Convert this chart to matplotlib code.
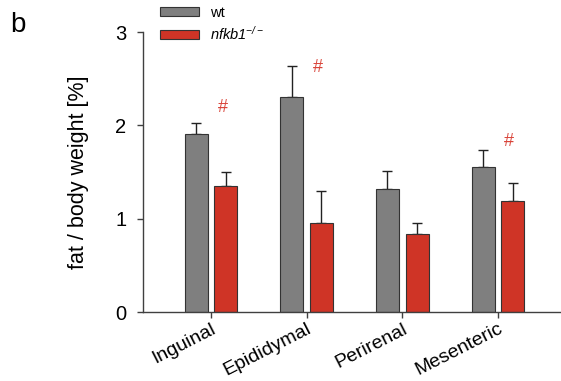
import matplotlib
matplotlib.use("Agg")
import matplotlib.pyplot as plt
import numpy as np

plt.rcParams['font.family'] = ['Liberation Sans', 'DejaVu Sans']
plt.rcParams['mathtext.fontset'] = 'custom'
plt.rcParams['mathtext.it'] = 'Liberation Sans:italic'
plt.rcParams['mathtext.rm'] = 'Liberation Sans:italic'

categories = ["Inguinal", "Epididymal", "Perirenal", "Mesenteric"]
wt_mean = [1.91, 2.30, 1.32, 1.55]
wt_err = [0.11, 0.34, 0.19, 0.19]
ko_mean = [1.35, 0.95, 0.84, 1.19]
ko_err = [0.15, 0.35, 0.11, 0.19]
sig = ["#", "#", "", "#"]
sig_y = [2.19, 2.62, 0, 1.83]

fig = plt.figure(figsize=(5.61, 3.81), dpi=100)
ax = fig.add_axes([143/561, 1-312/381, 417/561, 280/381])

x = np.arange(len(categories))
w = 0.24
off = 0.155
gray = '#7f7f7f'
red = '#cf3426'
ax.bar(x - off, wt_mean, w, color=gray, edgecolor='#333333', linewidth=0.8, label='wt', zorder=2)
ax.bar(x + off, ko_mean, w, color=red, edgecolor='#333333', linewidth=0.8,
       label=r'nfkb1$^{\mathregular{-/-}}$', zorder=2)
ax.errorbar(x - off, wt_mean, yerr=[np.zeros(4), wt_err], fmt='none', ecolor='#222222',
            elinewidth=1.0, capsize=3.5, capthick=1.0, zorder=1)
ax.errorbar(x + off, ko_mean, yerr=[np.zeros(4), ko_err], fmt='none', ecolor='#222222',
            elinewidth=1.0, capsize=3.5, capthick=1.0, zorder=1)
for i, (s, yy) in enumerate(zip(sig, sig_y)):
    if s:
        ax.text(x[i] + 0.12, yy, s, color='#d9453a', fontsize=13, ha='center', va='center')

ax.set_xlim(-0.712, 3.65)
ax.set_ylim(0, 3)
ax.set_yticks([0, 1, 2, 3])
ax.set_xticks(x)
ax.set_xticklabels(categories, rotation=27, ha='right', rotation_mode='anchor', fontsize=14)
ax.tick_params(axis='y', labelsize=14.5, length=4, width=1, color='#404040', pad=8)
ax.tick_params(axis='x', length=4, width=1, color='#404040', pad=2)
for s in ['top', 'right']:
    ax.spines[s].set_visible(False)
for s in ['left', 'bottom']:
    ax.spines[s].set_color('#404040')
    ax.spines[s].set_linewidth(1.0)
ax.set_ylabel('fat / body weight [%]', fontsize=15.5, labelpad=19)

fig.text(10/561, 1-25/381, 'b', fontsize=20, va='center', ha='left')

leg = fig.legend(loc='upper left', bbox_to_anchor=(160/561, 1-6/381), frameon=False,
                 fontsize=10.5, handlelength=2.7, handleheight=0.6, handletextpad=0.7,
                 borderpad=0, labelspacing=0.35, borderaxespad=0)
leg.get_texts()[1].set_fontstyle('italic')

fig.savefig('out.png', dpi=100)
